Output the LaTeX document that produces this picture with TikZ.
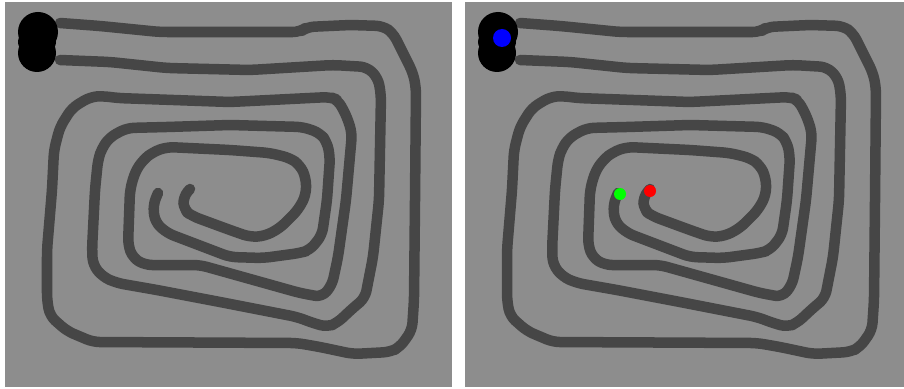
\documentclass[tikz,border=0pt]{standalone}
\usepackage{tikz}

\definecolor{boardgray}{RGB}{141,141,141}
\definecolor{trackgray}{RGB}{70,70,70}

% outer spiral, ends at the red tip
\newcommand{\trackred}{%
  \draw[track] (60,23) -- (100,26) -- (160,32) -- (300,32) -- (307,27) -- (350,25) -- (383,26)
    -- (393,33) -- (413,73) -- (416,88) -- (415,200) -- (414,300) -- (412,330) -- (400,347)
    -- (390,352) -- (353,354) -- (320,347) -- (297,343) -- (93,342) -- (67,331) -- (50,316)
    -- (47,300) -- (47,250) -- (52,190) -- (54,150) -- (60,127) -- (72,108) -- (90,97)
    -- (103,96) -- (117,98) -- (230,102) -- (270,100) -- (330,97) -- (338,100) -- (347,117)
    -- (352,133) -- (346,200) -- (338,257) -- (332,285) -- (322,297) -- (300,293) -- (200,265)
    -- (145,265) -- (133,258) -- (128,245) -- (130,190) -- (135,172) -- (143,160) -- (153,152)
    -- (167,147) -- (230,150) -- (270,153) -- (290,158) -- (300,165) -- (306,178) -- (306,195)
    -- (298,210) -- (280,228) -- (265,236) -- (250,237) -- (230,230) -- (192,216) -- (184,210)
    -- (183,197) -- (190,189);}

% inner spiral, ends at the green tip
\newcommand{\trackgreen}{%
  \draw[track] (60,60) -- (110,62) -- (167,68) -- (250,70) -- (333,65) -- (367,67) -- (378,78)
    -- (381,95) -- (379,200) -- (373,257) -- (365,298) -- (353,308) -- (337,323) -- (327,327)
    -- (313,323) -- (297,317) -- (220,302) -- (157,290) -- (117,283) -- (103,277) -- (93,265)
    -- (92,250) -- (95,190) -- (98,160) -- (102,148) -- (110,137) -- (127,128) -- (167,127)
    -- (230,125) -- (303,127) -- (320,133) -- (327,142) -- (330,157) -- (327,200) -- (322,235)
    -- (310,250) -- (300,253) -- (263,258) -- (230,257) -- (167,233) -- (155,222) -- (153,205)
    -- (158,193);}

\begin{document}
\begin{tikzpicture}[
						x=0.01cm, y=-0.01cm,
						board/.style={fill=boardgray},
						track/.style={draw=trackgray, line width=0.105cm, rounded corners=2pt},
						line cap=round,
						line join=round
						]
						
						% Frame
						\useasboundingbox (0,0) rectangle (904,388);
						\clip (0,0) rectangle (904,388);
						\fill[white] (0,0) rectangle (904,388);
						
						% Two panels
						\foreach \dx in {0,460} {
							\begin{scope}[shift={(\dx,0)}]
								\fill[board] (5,2) rectangle (452,387);
								\trackred
								\trackgreen
								% start blob
								\fill[black] (38,32) circle (20);
								\fill[black] (37,53) circle (19);
								\fill[black] (37,42) ellipse (19 and 14);
							\end{scope}
						}
						
						% Markers
						\fill[blue] (502,38) circle (9);
						\fill[green] (620,194) circle (6);
						\fill[red] (650,191) circle (6);
						
					\end{tikzpicture}
\end{document}
